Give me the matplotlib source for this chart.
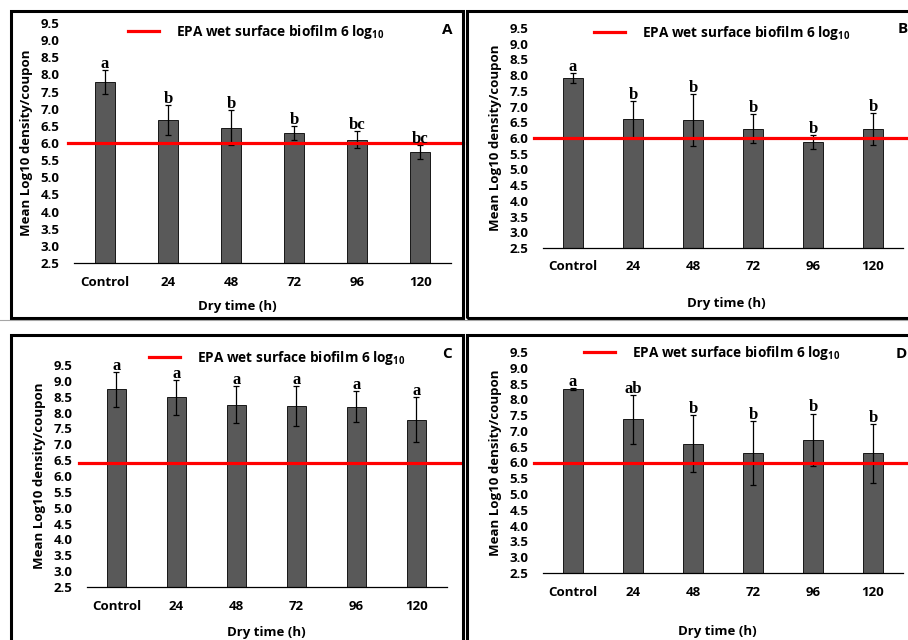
import matplotlib
matplotlib.use('Agg')
import matplotlib.pyplot as plt
from matplotlib.patches import Rectangle
from matplotlib.lines import Line2D

plt.rcParams['font.family'] = ['Open Sans', 'DejaVu Sans']
plt.rcParams['font.weight'] = 'bold'
plt.rcParams['axes.labelweight'] = 'bold'

W, H = 908, 640

# data
categories = ['Control', '24', '48', '72', '96', '120']
y_ticks = [2.5, 3.0, 3.5, 4.0, 4.5, 5.0, 5.5, 6.0, 6.5, 7.0, 7.5, 8.0, 8.5, 9.0, 9.5]
legend_label = 'EPA wet surface biofilm 6 log$_\\mathregular{10}$'

mean_a = [7.78, 6.68, 6.45, 6.29, 6.09, 5.73]
err_a = [0.34, 0.44, 0.52, 0.21, 0.25, 0.20]
letters_a = ['a', 'b', 'b', 'b', 'bc', 'bc']
epa_a = 6.0

mean_b = [7.92, 6.60, 6.57, 6.30, 5.87, 6.28]
err_b = [0.16, 0.59, 0.83, 0.47, 0.21, 0.51]
letters_b = ['a', 'b', 'b', 'b', 'b', 'b']
epa_b = 6.0

mean_c = [8.73, 8.48, 8.25, 8.22, 8.18, 7.78]
err_c = [0.55, 0.55, 0.58, 0.63, 0.49, 0.72]
letters_c = ['a', 'a', 'a', 'a', 'a', 'a']
epa_c = 6.4

mean_d = [8.33, 7.37, 6.60, 6.30, 6.72, 6.29]
err_d = [0.02, 0.78, 0.90, 1.00, 0.83, 0.94]
letters_d = ['a', 'ab', 'b', 'b', 'b', 'b']
epa_d = 6.0

fig = plt.figure(figsize=(W / 100, H / 100), dpi=100)


def fx(px):
    return px / W


def fy(py):
    return 1 - py / H


def panel(tag, means, errs, letters, epa, ax_px, xlim, red_x, leg_xy, tag_xy, xlab, ylab):
    l, t, r, b = ax_px
    ax = fig.add_axes([fx(l), fy(b), (r - l) / W, (b - t) / H])
    x = list(range(len(categories)))
    ax.bar(x, means, width=0.32, color='#595959', edgecolor='black', linewidth=0.6, zorder=2)
    ax.errorbar(x, means, yerr=errs, fmt='none', ecolor='black', elinewidth=0.9,
                capsize=2.5, capthick=0.9, zorder=3)
    for xi, m, e, s in zip(x, means, errs, letters):
        ax.annotate(s, (xi, m + e), xytext=(0, 1.5), textcoords='offset points',
                    ha='center', va='baseline', fontfamily='Liberation Serif',
                    fontweight='bold', fontsize=12, zorder=5)
    ax.axhline(epa, xmin=red_x[0], xmax=red_x[1], color='red', lw=2.3, clip_on=False, zorder=4)

    ax.set_xlim(*xlim)
    ax.set_ylim(2.5, 9.5)
    ax.set_yticks(y_ticks)
    ax.set_yticklabels(['%.1f' % v for v in y_ticks], fontweight='bold')
    ax.set_xticks(x)
    ax.set_xticklabels(categories, fontweight='bold')
    for s in ['top', 'right', 'left']:
        ax.spines[s].set_visible(False)
    ax.spines['bottom'].set_linewidth(0.9)
    ax.tick_params(axis='y', length=0, pad=10.5, labelsize=9.5)
    ax.tick_params(axis='x', length=0, pad=9, labelsize=9.5)
    ax.patch.set_alpha(0)

    ax.set_xlabel('Dry time (h)', fontsize=9.5, fontweight='bold')
    ax.xaxis.set_label_coords(xlab[0], xlab[1])
    ax.xaxis.label.set_va('center')
    ax.set_ylabel('Mean Log10 density/coupon', fontsize=9.5, fontweight='bold')
    ax.yaxis.set_label_coords(ylab[0], ylab[1])
    ax.yaxis.label.set_va('center')

    handle = Line2D([], [], color='red', lw=2.3)
    ax.legend([handle], [legend_label], loc='center left',
              bbox_to_anchor=(fx(leg_xy[0]), fy(leg_xy[1])), bbox_transform=fig.transFigure,
              frameon=False, borderpad=0, borderaxespad=0, handlelength=2.3,
              handletextpad=1.2, prop=dict(family=['Open Sans', 'DejaVu Sans'], weight='bold', size=9.8))
    fig.text(fx(tag_xy[0]), fy(tag_xy[1]), tag, ha=tag_xy[2], va='center',
             fontsize=11, fontweight='bold')
    return ax


# panel frames
frames = [(11, 11, 463, 318), (467, 11, 915, 318), (11, 335, 463, 648), (467, 335, 915, 648)]
for l, t, r, b in frames:
    fig.add_artist(Rectangle((fx(l), fy(b)), (r - l) / W, (b - t) / H, transform=fig.transFigure,
                             fill=False, edgecolor='black', lw=2.2))
fig.add_artist(Line2D([0, 1], [fy(320), fy(320)], transform=fig.transFigure, color='#a6a6a6', lw=0.8))

panel('A', mean_a, err_a, letters_a, epa_a, (74, 23, 451, 263), (-0.49, 5.49),
      (-0.016, 1.032), (128, 32), (447, 30, 'center'), (0.432, -0.183), (-0.127, 0.5))
panel('B', mean_b, err_b, letters_b, epa_b, (543, 28, 903, 248), (-0.5, 5.5),
      (-0.024, 1.02), (594, 33), (898, 29, 'left'), (0.508, -0.25), (-0.132, 0.5))
panel('C', mean_c, err_c, letters_c, epa_c, (87, 365, 447, 587), (-0.49, 5.51),
      (-0.023, 1.043), (149, 358), (447, 354, 'center'), (0.498, -0.203), (-0.133, 0.5))
panel('D', mean_d, err_d, letters_d, epa_d, (543, 352, 903, 573), (-0.5, 5.5),
      (-0.024, 1.02), (584, 353), (896, 354, 'left'), (0.483, -0.264), (-0.132, 0.5))

fig.savefig('out.png', dpi=100)
